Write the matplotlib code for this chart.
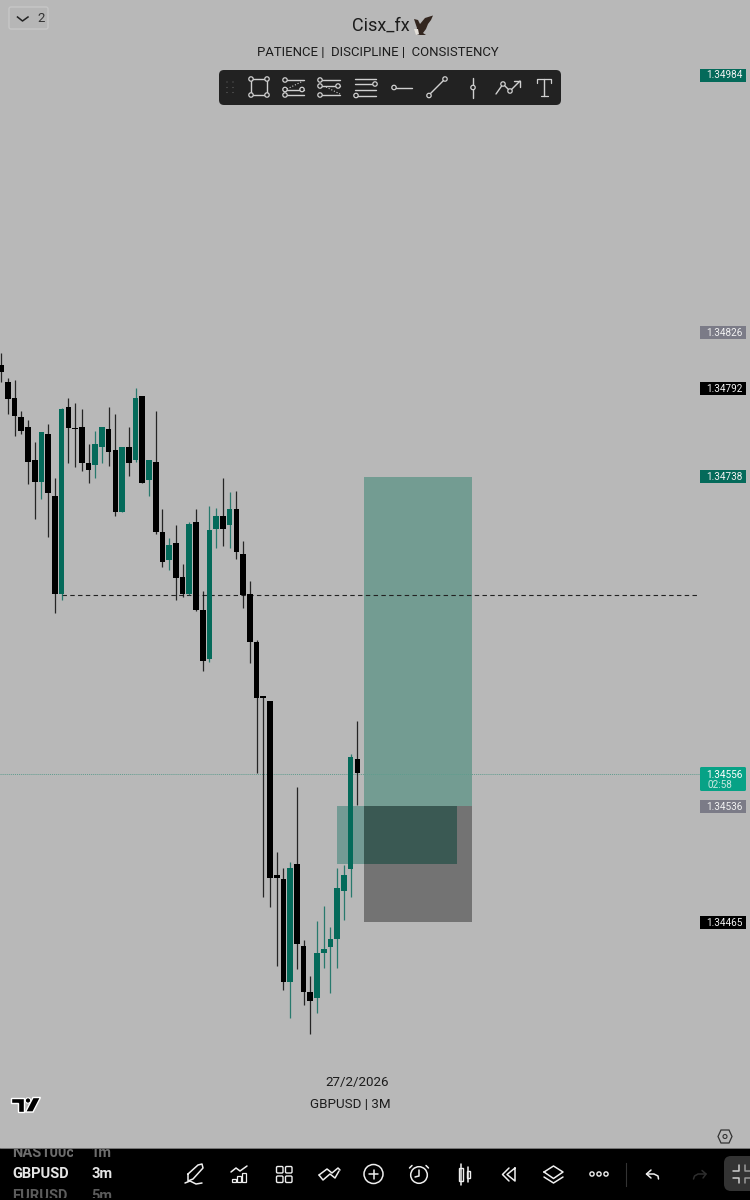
import matplotlib
matplotlib.use("Agg")
import matplotlib.pyplot as plt
from matplotlib.patches import Rectangle, FancyBboxPatch, Circle, Polygon

plt.rcParams['font.family'] = ['Roboto', 'DejaVu Sans']

# Candle data
opens = [1.348063, 1.347959, 1.347861, 1.347745, 1.347683, 1.347481, 1.347346, 1.347640, 1.347261, 1.346660,
         1.347806, 1.347677, 1.347683, 1.347463, 1.347450, 1.347561, 1.347671, 1.347542, 1.347163, 1.347561,
         1.347481, 1.347873, 1.347359, 1.347469, 1.347040, 1.346868, 1.346973, 1.346764, 1.346660, 1.347101,
         1.346562, 1.346262, 1.347058, 1.347138, 1.347083, 1.347181, 1.346905, 1.346660, 1.346366, 1.346035,
         1.346005, 1.344938, 1.344914, 1.344283, 1.345006, 1.344503, 1.344222, 1.344185, 1.344460, 1.344497,
         1.344546, 1.344840, 1.344975, 1.345649]
highs = [1.348137, 1.347984, 1.347971, 1.347781, 1.347726, 1.347591, 1.347653, 1.347702, 1.347371, 1.347800,
         1.347861, 1.347830, 1.347794, 1.347579, 1.347659, 1.347683, 1.347806, 1.347763, 1.347561, 1.347683,
         1.347922, 1.347873, 1.347481, 1.347781, 1.347181, 1.347003, 1.347083, 1.346844, 1.347101, 1.347181,
         1.346678, 1.347199, 1.347187, 1.347371, 1.347285, 1.347291, 1.346985, 1.346740, 1.346378, 1.346035,
         1.346005, 1.345079, 1.344981, 1.345018, 1.345478, 1.344540, 1.344320, 1.344657, 1.344748, 1.344620,
         1.344981, 1.345000, 1.345680, 1.345882]
lows = [1.347959, 1.347763, 1.347628, 1.347640, 1.347334, 1.347120, 1.347242, 1.347009, 1.346544, 1.346623,
        1.347463, 1.347438, 1.347414, 1.347340, 1.347371, 1.347463, 1.347444, 1.347138, 1.347163, 1.347383,
        1.347469, 1.347340, 1.347261, 1.347028, 1.346826, 1.346807, 1.346623, 1.346642, 1.346654, 1.346556,
        1.346188, 1.346243, 1.346942, 1.346954, 1.346942, 1.346875, 1.346574, 1.346237, 1.345563, 1.344804,
        1.344742, 1.344381, 1.344234, 1.344062, 1.344362, 1.344142, 1.343964, 1.344093, 1.344369, 1.344215,
        1.344369, 1.344663, 1.344804, 1.345367]
closes = [1.348020, 1.347855, 1.347751, 1.347659, 1.347469, 1.347346, 1.347653, 1.347279, 1.346660, 1.347794,
          1.347677, 1.347671, 1.347463, 1.347420, 1.347579, 1.347683, 1.347530, 1.347163, 1.347561, 1.347463,
          1.347861, 1.347340, 1.347481, 1.347040, 1.346856, 1.346960, 1.346758, 1.346660, 1.347089, 1.346562,
          1.346250, 1.347052, 1.347138, 1.347058, 1.347181, 1.346917, 1.346654, 1.346366, 1.346023, 1.346023,
          1.344920, 1.344920, 1.344283, 1.344981, 1.344516, 1.344222, 1.344166, 1.344460, 1.344485, 1.344546,
          1.344859, 1.344938, 1.345661, 1.345563]

# Price levels on the right scale
scale_prices = ["1.34984", "1.34826", "1.34792", "1.34738", "1.34536", "1.34465"]
scale_values = [1.34984, 1.34826, 1.34792, 1.34738, 1.34536, 1.34465]
scale_colors = ["#046a5a", "#7b7b87", "#000000", "#046a5a", "#7b7b87", "#000000"]
last_price = 1.34556
last_label = "1.34556"
countdown = "02:58"
line_price = 1.346654

# Long position drawing: target, entry, stop, and the demand zone under entry
target_price = 1.34738
entry_price = 1.34536
stop_price = 1.34465
zone_bottom = 1.345006

GREEN = "#046a5a"
BG = "#b8b8b8"

fig = plt.figure(figsize=(7.5, 12), dpi=100, facecolor=BG)

# Chart axes: x is candle index, y is price
ax = fig.add_axes([0, 0, 1, 1])
ax.set_facecolor(BG)
ax.set_xlim(-0.17, 111.43)
ax.set_ylim(1.342947, 1.350300)
ax.axis('off')

# Position drawing behind the candles
ax.add_patch(Rectangle((54, entry_price), 16, target_price - entry_price, facecolor="#739c92", edgecolor='none', zorder=1))
ax.add_patch(Rectangle((54, stop_price), 16, entry_price - stop_price, facecolor="#737373", edgecolor='none', zorder=1))

ax.plot([9.0, 103.5], [line_price, line_price], color="#222222", lw=0.8, dashes=(4, 3), zorder=2)
ax.plot([-0.25, 104], [last_price, last_price], color="#5f9c8e", lw=0.7, dashes=(1, 1), zorder=2)

# Candles
for i in range(len(opens)):
    up = closes[i] >= opens[i]
    color = GREEN if up else "#000000"
    ax.plot([i, i], [lows[i], highs[i]], color=color, lw=0.9, alpha=0.8, solid_capstyle='butt', zorder=3)
    bottom = min(opens[i], closes[i])
    height = abs(closes[i] - opens[i])
    ax.bar(i, height, width=0.84, bottom=bottom, color=color, zorder=4)

# Zone drawn over the candles
ax.add_patch(Rectangle((50, zone_bottom), 17.8, entry_price - zone_bottom, facecolor="#046a5a", alpha=0.38, edgecolor='none', zorder=5))
ax.add_patch(Rectangle((54, zone_bottom), 13.8, entry_price - zone_bottom, facecolor="#2a3f39", alpha=0.45, edgecolor='none', zorder=5))

# Overlay axes in screen pixels for the app interface
ui = fig.add_axes([0, 0, 1, 1], facecolor='none')
ui.set_xlim(0, 750)
ui.set_ylim(1200, 0)
ui.axis('off')


def price_y(p):
    return 75 + (1.34984 - p) * 163200


# Scale labels
for label, value, color in zip(scale_prices, scale_values, scale_colors):
    y = price_y(value)
    ui.add_patch(Rectangle((700, y - 6.5), 46, 13, facecolor=color, edgecolor='none', zorder=6))
    ui.text(724.5, y + 0.5, label, color="#f2f2f2", fontsize=7.2, ha='center', va='center', zorder=7)

ui.add_patch(FancyBboxPatch((700, 767), 46, 24, boxstyle="round,pad=0,rounding_size=1.5", facecolor="#07a286", edgecolor='none', zorder=6))
ui.text(724.5, 774.5, last_label, color="white", fontsize=7.2, ha='center', va='center', zorder=7)
ui.text(719.5, 785.5, countdown, color="#c8e8e0", fontsize=7.2, ha='center', va='center', zorder=7)

# Header text
ui.text(381, 26, "Cisx_fx", color="#1c1c1c", fontsize=13, ha='center', va='center')
ui.text(378, 52, "PATIENCE |  DISCIPLINE |  CONSISTENCY", color="#1c1c1c", fontsize=9.45, ha='center', va='center')

# Eagle next to the name
ui.add_patch(Polygon([(414, 19), (418, 20), (420, 24), (425, 18), (433, 15.5), (431, 20), (428, 24), (426, 29), (423, 33),
                      (426, 35), (420, 35), (416, 34), (417, 28)], facecolor="#33261f", edgecolor='none'))
ui.add_patch(Polygon([(414, 29), (418, 29), (419, 34), (416, 35)], facecolor="#e4e0da", edgecolor='none'))

# Symbol counter button
ui.add_patch(FancyBboxPatch((9, 7), 39, 22, boxstyle="round,pad=0,rounding_size=2", facecolor="#b6b6b6", edgecolor="#c8c8c8", lw=0.9))
ui.plot([17.5, 22.5, 28], [17, 21, 17], color="#222222", lw=1.1)
ui.text(41, 18.5, "2", color="#333333", fontsize=9.5, ha='center', va='center')

# Drawing toolbar
ui.add_patch(FancyBboxPatch((219, 70), 342, 35, boxstyle="round,pad=0,rounding_size=5", facecolor="#222222", edgecolor='none', zorder=6))
ICON = "#d0d0d0"


def seg(xs, ys, color=ICON, lw=1.0, ls='-', z=7):
    ui.plot(xs, ys, color=color, lw=lw, ls=ls, zorder=z, solid_capstyle='round')


def dot(x, y, r=2.2, color=ICON, fill="#222222", lw=0.9, z=8):
    ui.add_patch(Circle((x, y), r, facecolor=fill, edgecolor=color, lw=lw, zorder=z))


for gx in [227, 233]:
    for gy in [82, 87.5, 92.5]:
        ui.add_patch(Circle((gx, gy), 0.6, facecolor="#666666", edgecolor='none', zorder=7))

seg([251, 267, 267, 251, 251], [79, 79, 95, 95, 79])
for p in [(251, 79), (267, 79), (251, 95), (267, 95)]:
    dot(*p)

seg([285, 304], [80, 80])
seg([285, 304], [89.5, 89.5])
seg([285, 304], [95, 95])
seg([287, 303], [89, 81], ls=':', lw=0.8)
dot(285, 80); dot(302, 89.5); dot(285, 89.5); dot(285, 95)

seg([320, 340], [80, 80])
seg([320, 340], [86, 86])
seg([320, 340], [95, 95])
seg([326, 340], [87, 94], ls=':', lw=0.8)
dot(320, 80); dot(338, 86); dot(320, 86); dot(320, 95)

seg([355, 376], [78.5, 78.5])
seg([355, 376], [84, 84])
seg([355, 376], [89.5, 89.5])
seg([355, 376], [95.5, 95.5])
dot(375, 84); dot(356, 95.5)

seg([394, 412], [87.5, 87.5])
dot(394, 87.5)

seg([429, 445], [95, 79])
dot(429, 95.5); dot(445, 79)

seg([473, 473], [78, 98])
dot(473, 87.5)

seg([496, 503, 510, 520], [94, 84, 91, 81])
seg([514, 520, 520], [81, 81, 87])
dot(503, 84); dot(510, 91)

# serif T
seg([537, 537, 551, 551], [83, 78.5, 78.5, 83], lw=0.9)
seg([544, 544], [78.5, 95.5], lw=1.0)
seg([540.5, 547.5], [95.5, 95.5], lw=0.9)

# Bottom bar with a clipped watchlist
ui.add_patch(Rectangle((0, 1148), 750, 52, facecolor="#000000", edgecolor='none', zorder=6))
ui.plot([0, 750], [1148, 1148], color="#8a8a8a", lw=0.6, zorder=7)
clip_sym = Rectangle((0, 1149), 73, 49, transform=ui.transData)
clip_tf = Rectangle((80, 1149), 60, 49, transform=ui.transData)
rows = [("NAS100c", "1m", 1153, "#6d6d6d"), ("GBPUSD", "3m", 1174, "#e6e6e6"), ("EURUSD", "5m", 1196, "#5c5c5c")]
for sym, tf, y, color in rows:
    t1 = ui.text(12, y, sym, color=color, fontsize=10.5, fontweight='bold', ha='left', va='center', zorder=8)
    t2 = ui.text(91, y, tf, color=color, fontsize=10.5, fontweight='bold', ha='left', va='center', zorder=8)
    t1.set_clip_on(True)
    t2.set_clip_on(True)
    t1.set_clip_path(clip_sym)
    t2.set_clip_path(clip_tf)

W = "#efefef"


def bseg(xs, ys, color=W, lw=1.1):
    ui.plot(xs, ys, color=color, lw=lw, zorder=8, solid_capstyle='round')


# pen
bseg([188, 198, 202, 203, 193, 188, 188], [1174, 1165, 1164, 1168, 1179, 1181, 1174])
bseg([185, 190, 196, 202], [1183, 1181, 1184, 1183])
# chart with bars
bseg([231, 236, 240, 247], [1172, 1168, 1171, 1166])
for bx, by in [(231.5, 1179), (236.5, 1176), (241.5, 1173)]:
    ui.add_patch(Rectangle((bx, by), 4.5, 1182 - by, facecolor='none', edgecolor=W, lw=0.9, zorder=8))
# grid
for gx in [276.5, 285.5]:
    for gy in [1166.5, 1176]:
        ui.add_patch(FancyBboxPatch((gx, gy), 6.5, 6.5, boxstyle="round,pad=0,rounding_size=1.2", facecolor='none', edgecolor=W, lw=1.0, zorder=8))
# zigzag double line
bseg([319, 327, 332, 338, 340], [1175, 1169, 1173, 1168, 1170])
bseg([319, 323, 330, 335, 339], [1175, 1180, 1174, 1178, 1171])
# plus
ui.add_patch(Circle((373.5, 1174), 9.5, facecolor='none', edgecolor=W, lw=1.1, zorder=8))
bseg([369, 378], [1174, 1174])
bseg([373.5, 373.5], [1169.5, 1178.5])
# alarm
ui.add_patch(Circle((419, 1175), 8.3, facecolor='none', edgecolor=W, lw=1.1, zorder=8))
bseg([419, 419, 415], [1170, 1176, 1177])
bseg([409.5, 412], [1168, 1165.5])
bseg([426, 428.5], [1165.5, 1168])
# candles
ui.add_patch(Rectangle((459, 1168), 4, 13, facecolor='none', edgecolor=W, lw=1.0, zorder=8))
ui.add_patch(Rectangle((466.5, 1171), 3.5, 7, facecolor='none', edgecolor=W, lw=1.0, zorder=8))
bseg([461, 461], [1164, 1185])
bseg([468.3, 468.3], [1167, 1182])
# rewind
bseg([509, 502.5, 509], [1168, 1174.5, 1181])
bseg([515, 507, 515, 515], [1168, 1174.5, 1181, 1168])
# layers
bseg([544, 553.5, 563, 553.5, 544], [1172, 1166, 1172, 1178.5, 1172])
bseg([544, 553.5, 563], [1177, 1183, 1177])
# dots
for cx in [592, 599, 606]:
    ui.add_patch(Circle((cx, 1174), 2.1, facecolor='none', edgecolor=W, lw=1.0, zorder=8))
ui.plot([625.5, 625.5], [1163, 1186], color="#333333", lw=0.8, zorder=8)
# undo, redo
bseg([651, 646.5, 651], [1170, 1174, 1178])
bseg([646.5, 654, 658, 658.5], [1174, 1174, 1176, 1179])
bseg([702, 706, 703], [1170.5, 1174, 1178], color="#2e2e2e")
bseg([706, 698, 694.5, 693.5], [1174, 1174, 1176, 1179], color="#2e2e2e")
# fullscreen button
ui.add_patch(FancyBboxPatch((724, 1156), 40, 35, boxstyle="round,pad=0,rounding_size=7", facecolor="#333333", edgecolor='none', zorder=7))
bseg([733, 739, 739], [1171, 1171, 1165], color="#cfcfcf")
bseg([733, 739, 739], [1178, 1178, 1183], color="#cfcfcf")
bseg([750, 745, 745], [1171, 1171, 1165], color="#9a9a9a")
bseg([750, 745, 745], [1178, 1178, 1183], color="#9a9a9a")

# Settings hexagon
ui.add_patch(Polygon([(721, 1130), (729, 1130), (732, 1136.5), (729, 1143), (721, 1143), (718, 1136.5)], facecolor='none', edgecolor="#333333", lw=0.9))
ui.add_patch(Circle((725, 1136.5), 2, facecolor='none', edgecolor="#333333", lw=0.8))

# TradingView logo, black glyph with a white outline
ui.add_patch(Polygon([(11, 1097.5), (24, 1097.5), (24, 1112), (17.5, 1112), (17.5, 1103), (11, 1103)], facecolor="black", edgecolor="white", lw=1.0))
ui.add_patch(Circle((28, 1100.5), 2.7, facecolor="black", edgecolor="white", lw=0.8))
ui.add_patch(Polygon([(33, 1097.5), (40.5, 1097.5), (33, 1112), (25.5, 1112)], facecolor="black", edgecolor="white", lw=1.0))

# Footer caption
ui.text(357.5, 1082.5, "27/2/2026", color="#1c1c1c", fontsize=9.6, ha='center', va='center')
ui.text(350.5, 1104.5, "GBPUSD | 3M", color="#1c1c1c", fontsize=9.6, ha='center', va='center')

fig.savefig("out.png", dpi=100, facecolor=BG)
